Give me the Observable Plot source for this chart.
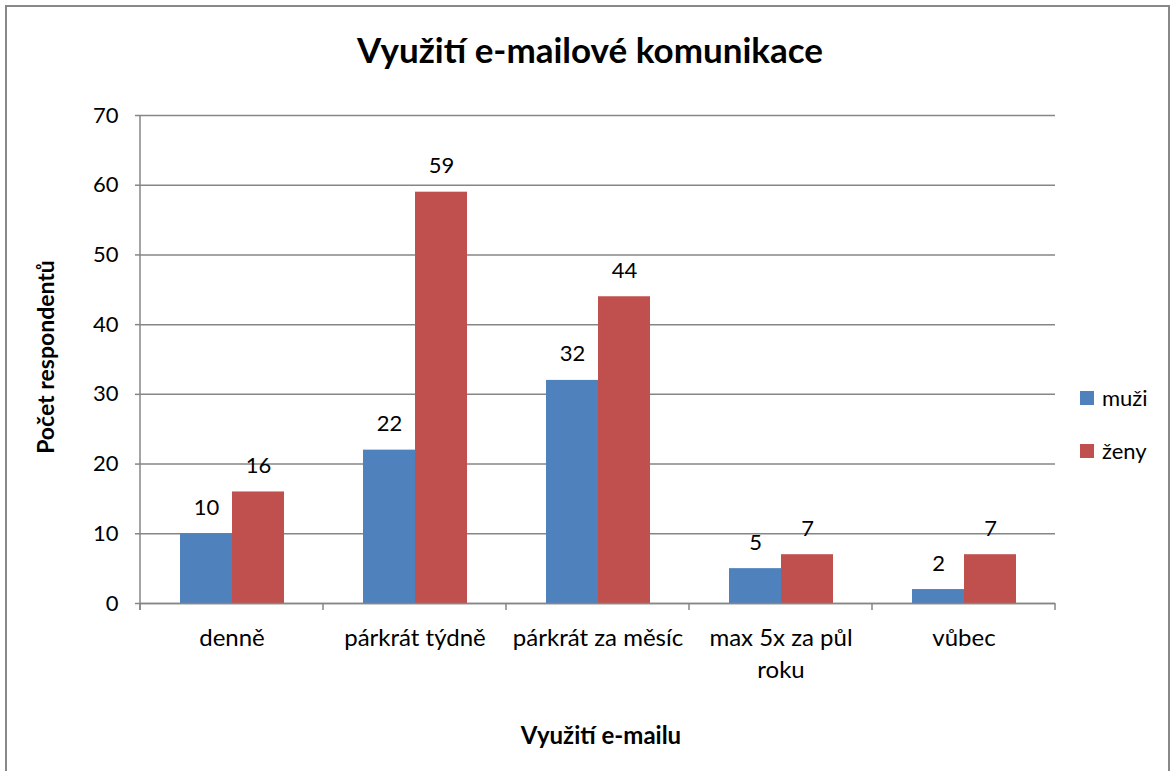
<!DOCTYPE html>
<html>
<head>
<meta charset="utf-8">
<script src="https://cdn.jsdelivr.net/npm/d3@7"></script>
<script src="https://cdn.jsdelivr.net/npm/@observablehq/plot@0.6"></script>
<style>
  body { margin:0; background:#fff; font-family: Lato, "Open Sans", sans-serif; }
  #frame { position:absolute; left:5px; top:5px; width:1165px; height:790px; border:2px solid #888; box-sizing:border-box; }
  #title { position:absolute; left:0; width:1180px; top:28px; text-align:center; font-weight:bold; font-size:35px; color:#000; }
  #chart { position:absolute; left:0; top:95px; }
  #ytitle { position:absolute; left:45px; top:357px; transform:translate(-50%,-50%) rotate(-90deg); font-weight:bold; font-size:23px; white-space:nowrap; }
  #xtitle { position:absolute; left:0; width:1202px; top:720px; text-align:center; font-weight:bold; font-size:24px; }
  .leg { position:absolute; left:1080px; font-size:22px; display:flex; align-items:center; }
  .leg span.sw { width:14px; height:14px; display:inline-block; margin-right:8px; }
</style>
</head>
<body>
<div id="frame"></div>
<div id="title">Využití e-mailové komunikace</div>
<div id="chart"></div>
<div id="ytitle">Počet respondentů</div>
<div id="xtitle">Využití e-mailu</div>
<div id="legend"></div>
<script>
const categories = ["denně", "párkrát týdně", "párkrát za měsíc", "max 5x za půl roku", "vůbec"];
const series = ["muži", "ženy"];
const muzi = [10, 22, 32, 5, 2];
const zeny = [16, 59, 44, 7, 7];
const yTicks = [0, 10, 20, 30, 40, 50, 60, 70];
const colors = ["#4F81BD", "#C0504D"];
const legendTops = [384, 437];

const data = categories.flatMap((c, i) => [
  {cat: c, s: series[0], v: muzi[i]},
  {cat: c, s: series[1], v: zeny[i]}
]);

const gray = "#868686";
const plot = Plot.plot({
  width: 1100, height: 600,
  marginLeft: 138, marginRight: 43, marginTop: 20, marginBottom: 92,
  style: {fontFamily: "Lato, 'Open Sans', sans-serif", fontSize: "22px", color: "#000", background: "transparent"},
  fx: {domain: categories, padding: 0, label: null, axis: null},
  x: {domain: series, paddingInner: 0, paddingOuter: 0.75, axis: null},
  y: {domain: [0, 70], label: null},
  color: {domain: series, range: colors},
  marks: [
    Plot.gridY(yTicks, {stroke: gray, strokeOpacity: 1, strokeWidth: 1.5}),
    Plot.barY(data, {fx: "cat", x: "s", y: "v", fill: "s"}),
    Plot.text(data, {fx: "cat", x: "s", y: "v", text: "v", dy: -26, fontSize: 22, fill: "#000"}),
    Plot.ruleY([0], {stroke: gray, strokeWidth: 1.5}),
    Plot.axisY(yTicks, {tickSize: 5, tickPadding: 17, stroke: gray, strokeWidth: 1.5, fontSize: 22, label: null}),
    Plot.axisFx({anchor: "bottom", tickSize: 0, tickPadding: 20, lineHeight: 1.33, fontSize: 24, label: null,
      tickFormat: d => d === "max 5x za půl roku" ? "max 5x za půl\nroku" : d})
  ]
});
document.getElementById("chart").appendChild(plot);

// axis line and category boundary ticks, from the plot's own scales
const fx = plot.scale("fx"), y = plot.scale("y");
const svg = d3.select(plot);
const bounds = categories.map(c => fx.apply(c)).concat([fx.apply(categories[categories.length - 1]) + fx.bandwidth]);
const g = svg.append("g").attr("stroke", gray).attr("stroke-width", 1.5);
g.append("line").attr("x1", bounds[0]).attr("x2", bounds[0]).attr("y1", y.apply(70)).attr("y2", y.apply(0) + 7);
g.selectAll(".bt").data(bounds).join("line")
  .attr("x1", d => d).attr("x2", d => d).attr("y1", y.apply(0)).attr("y2", y.apply(0) + 7);

// legend
const leg = document.getElementById("legend");
series.forEach((s, i) => {
  const d = document.createElement("div");
  d.className = "leg";
  d.style.top = legendTops[i] + "px";
  d.innerHTML = `<span class="sw" style="background:${colors[i]}"></span>${s}`;
  leg.appendChild(d);
});
</script>
</body>
</html>
